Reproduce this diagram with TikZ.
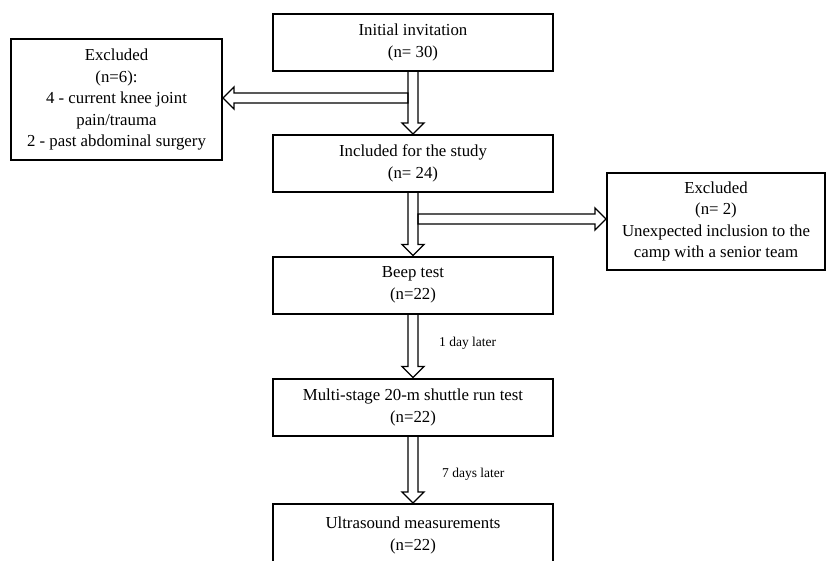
\documentclass[tikz,border=0pt]{standalone}
\usepackage{fontspec}
\setmainfont{Liberation Serif}
\usetikzlibrary{
  calc                   % Coordinate math for the hollow arrows
}

% Hollow block arrow from the bottom of one box to the top of the next
\newcommand{\hollowdown}[2]{%
  \draw[hollow] ($(#1.south)+(-5,0)$) -- ($(#2.north)+(-5,-11)$)
    -- ($(#2.north)+(-11,-11)$) -- (#2.north) -- ($(#2.north)+(11,-11)$)
    -- ($(#2.north)+(5,-11)$) -- ($(#1.south)+(5,0)$);
}
% Hollow side arrow: start, tip, offset of the head base (+ left, - right)
\newcommand{\hollowside}[3]{%
  \draw[hollow] ($(#1)+(0,-5)$) -- ($(#2)+(#3,-5)$) -- ($(#2)+(#3,-11)$)
    -- (#2) -- ($(#2)+(#3,11)$) -- ($(#2)+(#3,5)$) -- ($(#1)+(0,5)$) -- cycle;
}

\begin{document}
\begin{tikzpicture}[x=1pt, y=-1pt,
    box/.style={draw, line width=2pt, minimum width=280pt, minimum height=57pt,
      align=center, inner sep=0pt, font=\fontsize{16.8}{22}\selectfont},
    sidebox/.style={draw, line width=2pt, align=center, inner sep=0pt,
      font=\fontsize{16.8}{21.5}\selectfont},
    hollow/.style={draw, line width=1.3pt, line join=miter},
    note/.style={anchor=west, inner sep=0pt, font=\fontsize{13.5}{16}\selectfont}]
        \useasboundingbox (0,0) rectangle (827,560);
        \clip (0,0) rectangle (827,560);

        % Main column
        \node[box] (invite) at (413, 42.5) {Initial invitation\\(n= 30)};
        \node[box] (incl) at (413, 163.5) {Included for the study\\(n= 24)};
        \node[box] (beep) at (413, 285) {Beep test\\(n=22)};
        \node[box] (shuttle) at (413, 407) {Multi-stage 20-m shuttle run test\\(n=22)};
        \node[box, minimum height=62pt] (ultra) at (413, 535) {Ultrasound measurements\\(n=22)};

        % Side boxes
        \node[sidebox, minimum width=211pt, minimum height=121pt] (exclA) at (116.5, 99.5)
          {Excluded\\(n=6):\\4 - current knee joint\\pain/trauma\\2 - past abdominal surgery};
        \node[sidebox, minimum width=218pt, minimum height=97pt] (exclB) at (716, 221.5)
          {Excluded\\(n= 2)\\Unexpected inclusion to the\\camp with a senior team};

        % Arrows down the column
        \hollowdown{invite}{incl}
        \hollowdown{incl}{beep}
        \hollowdown{beep}{shuttle}
        \hollowdown{shuttle}{ultra}

        % Branches to the excluded boxes
        \coordinate (splitL) at (408, 98);
        \coordinate (tipL) at (splitL -| exclA.east);
        \hollowside{splitL}{tipL}{11}
        \coordinate (splitR) at (418, 219);
        \coordinate (tipR) at (splitR -| exclB.west);
        \hollowside{splitR}{tipR}{-11}

        % Time between the tests
        \node[note] (day1) at (439, 343) {1 day later};
        \node[note] (day7) at (442, 474) {7 days later};
    \end{tikzpicture}
\end{document}
